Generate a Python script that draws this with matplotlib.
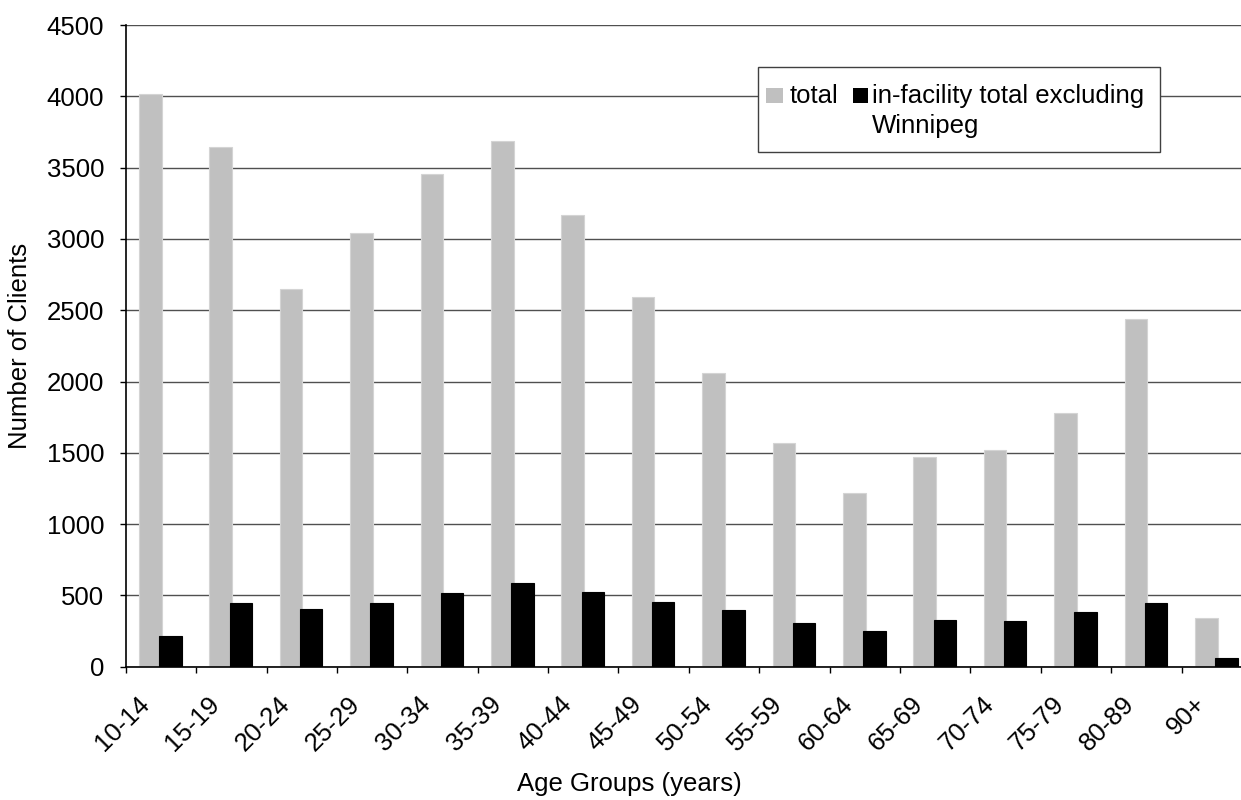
import numpy as np
import matplotlib
matplotlib.use("Agg")
import matplotlib.pyplot as plt
import matplotlib.transforms as mtransforms
from matplotlib.patches import Rectangle

age_groups = ["10-14", "15-19", "20-24", "25-29", "30-34", "35-39", "40-44",
              "45-49", "50-54", "55-59", "60-64", "65-69", "70-74", "75-79",
              "80-89", "90+"]
total = [4020, 3645, 2650, 3040, 3455, 3685, 3170, 2590, 2060, 1567,
         1215, 1473, 1520, 1777, 2437, 343]
in_facility = [215, 447, 402, 447, 519, 585, 527, 452, 398, 306,
               253, 330, 318, 386, 445, 59]

gray = "#c0c0c0"
plt.rcParams["font.family"] = ["Liberation Sans", "DejaVu Sans"]
fs = 18.5

fig = plt.figure(figsize=(12.41, 8.0), dpi=100)
ax = fig.add_axes([0.1013, 0.1666, 0.9076, 0.802])

x = np.arange(len(age_groups)) + 0.5
w = 0.32
ax.bar(x - 0.15, total, width=w, color=gray, edgecolor="#d4d4d4",
       linewidth=0.8, zorder=2)
ax.bar(x + 0.135, in_facility, width=w, color="black", edgecolor="black",
       linewidth=0.8, zorder=3)

ax.set_xlim(0, len(age_groups))
ax.set_ylim(0, 4500)
ax.set_yticks(np.arange(0, 4501, 500))
ax.yaxis.grid(True, color="#505050", linewidth=1.0, zorder=1)
ax.set_axisbelow(True)

# category labels at centres, tick marks at the boundaries
ax.set_xticks(x)
ax.set_xticklabels(age_groups, rotation=45, ha="right", fontsize=fs)
ax.set_xticks(np.arange(len(age_groups) + 1), minor=True)
ax.tick_params(axis="x", which="major", length=0, pad=18)
ax.tick_params(axis="x", which="minor", length=4.5, width=1, color="black")
ax.tick_params(axis="y", length=4.5, width=1, labelsize=fs, pad=11)
shift = mtransforms.ScaledTranslation(-7 / 100, 0, fig.dpi_scale_trans)
for lab in ax.get_xticklabels():
    lab.set_transform(lab.get_transform() + shift)

for s in ["top", "right"]:
    ax.spines[s].set_visible(False)
ax.spines["left"].set_linewidth(1.2)
ax.spines["bottom"].set_linewidth(1.2)

ax.set_ylabel("Number of Clients", fontsize=fs)
ax.yaxis.set_label_coords(-0.083, 0.5)
ax.set_xlabel("Age Groups (years)", fontsize=fs)
ax.xaxis.set_label_coords(0.447, -0.164)

# legend box drawn by hand so the swatches sit on the first text line
ta = ax.transAxes
ax.add_patch(Rectangle((0.5611, 0.8026), 0.3572, 0.1324, transform=ta,
                       facecolor="white", edgecolor="#404040", lw=1.0,
                       zorder=5, clip_on=False))
ax.add_patch(Rectangle((0.5685, 0.8784), 0.0151, 0.0234, transform=ta,
                       facecolor=gray, edgecolor="none", zorder=6))
ax.text(0.5898, 0.8784, "total", transform=ta, fontsize=fs,
        va="baseline", ha="left", zorder=6)
ax.add_patch(Rectangle((0.6455, 0.8784), 0.0136, 0.0234, transform=ta,
                       facecolor="black", edgecolor="none", zorder=6))
ax.text(0.6623, 0.8784, "in-facility total excluding", transform=ta,
        fontsize=fs, va="baseline", ha="left", zorder=6)
ax.text(0.6623, 0.8315, "Winnipeg", transform=ta,
        fontsize=fs, va="baseline", ha="left", zorder=6)

fig.savefig("out.png", dpi=100)
